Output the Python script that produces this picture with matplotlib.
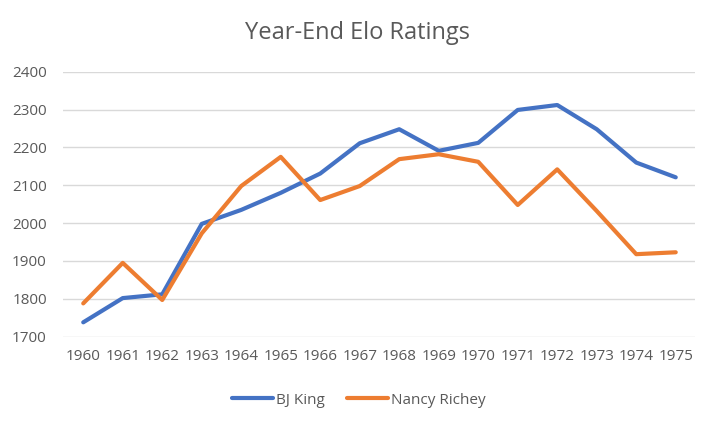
import matplotlib.pyplot as plt

# --- dados ---
years = ['1960', '1961', '1962', '1963', '1964', '1965', '1966', '1967',
         '1968', '1969', '1970', '1971', '1972', '1973', '1974', '1975']
bj_king = [1738, 1802, 1812, 1998, 2035, 2080, 2131, 2211,
           2248, 2191, 2212, 2299, 2312, 2248, 2160, 2121]
nancy_richey = [1788, 1895, 1797, 1973, 2098, 2175, 2061, 2098,
                2169, 2182, 2162, 2048, 2142, 2032, 1918, 1923]

plt.rcParams['font.family'] = ['Open Sans', 'DejaVu Sans']
text_color = '#595959'

fig = plt.figure(figsize=(7.15, 4.26), dpi=100)
ax = fig.add_axes([0.0888, 0.2096, 0.8839, 0.6221])

x = range(len(years))
ax.plot(x, bj_king, color='#4472C4', lw=3, solid_capstyle='round',
        solid_joinstyle='round', label='BJ King')
ax.plot(x, nancy_richey, color='#ED7D31', lw=3, solid_capstyle='round',
        solid_joinstyle='round', label='Nancy Richey')

ax.set_xlim(-0.5, len(years) - 0.5)
ax.set_ylim(1700, 2400)
ax.set_yticks(range(1700, 2401, 100))
ax.set_xticks(list(x))
ax.set_xticklabels(years)

ax.grid(axis='y', color='#D9D9D9', lw=1)
ax.set_axisbelow(True)
for s in ax.spines.values():
    s.set_visible(False)
ax.tick_params(axis='both', length=0, labelsize=11, labelcolor=text_color)
ax.tick_params(axis='y', pad=12)
ax.tick_params(axis='x', pad=9)

fig.text(0.5, 0.922, 'Year-End Elo Ratings', ha='center', va='center',
         fontsize=17, color=text_color)

leg = fig.legend(loc='center', bbox_to_anchor=(0.502, 0.061), ncol=2,
                 frameon=False, fontsize=11, handlelength=2.7, columnspacing=1.4,
                 handletextpad=0.2)
for t in leg.get_texts():
    t.set_color(text_color)

fig.savefig('out.png', dpi=100, facecolor='white')
